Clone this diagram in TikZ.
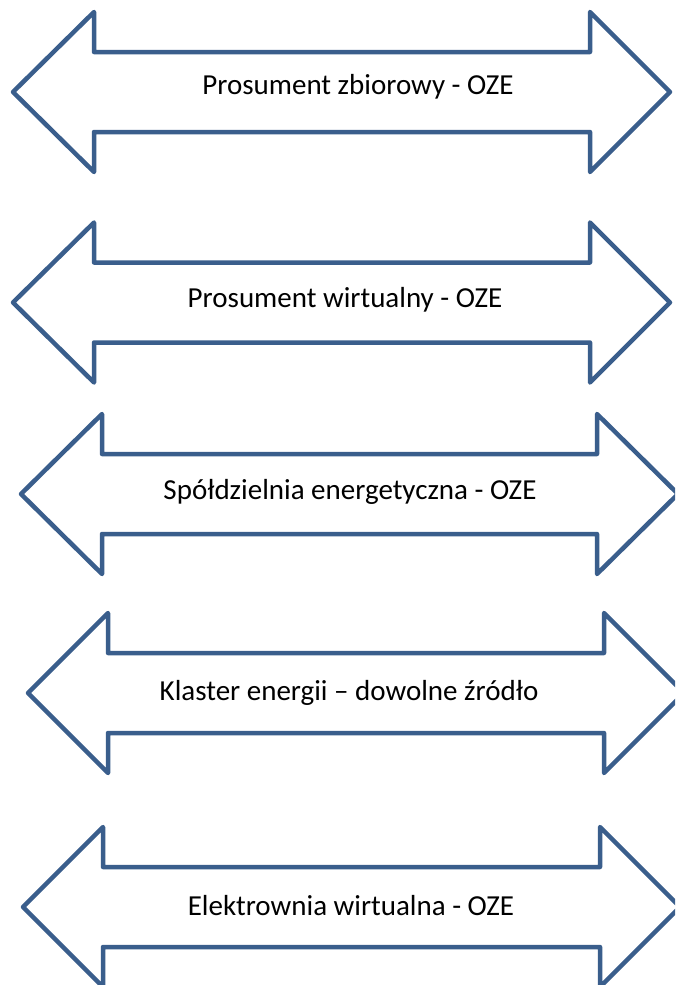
\documentclass[tikz,border=0pt]{standalone}
\usepackage{fontspec}
\setmainfont{Carlito}
\definecolor{arrowblue}{HTML}{3A5E8C}
\tikzset{
  dblarrow/.style={draw=arrowblue, line width=4.5pt, line join=round, fill=white},
  arrowlabel/.style={anchor=base, inner sep=0pt, font=\fontsize{29}{34}\selectfont, text=black}
}
% #1 left tip x, #2 left base x, #3 right base x, #4 right tip x, #5 centre y
\newcommand{\dblarrowshape}[6]{%
  \draw[dblarrow] (#1,#5) -- (#2,#5-80) -- (#2,#5-40) -- (#3,#5-40) -- (#3,#5-80)
    -- (#4,#5) -- (#3,#5+80) -- (#3,#5+40) -- (#2,#5+40) -- (#2,#5+80) -- cycle;
  \coordinate (#6) at ({(#1+#4)/2},#5);
}
\begin{document}
\begin{tikzpicture}[x=1pt,y=-1pt]
\useasboundingbox (0,0) rectangle (675,985);
\clip (0,0) rectangle (675,985);
\fill[white] (0,0) rectangle (675,985);
\dblarrowshape{13}{94}{590}{670}{92}{a1}
\dblarrowshape{13}{94}{590}{670}{302.5}{a2}
\dblarrowshape{21}{102}{597}{678}{494}{a3}
\dblarrowshape{28}{108}{604}{684}{693}{a4}
\dblarrowshape{23}{103}{600}{680}{907}{a5}
\node[arrowlabel] (t1) at (358,94) {Prosument zbiorowy - OZE};
\node[arrowlabel] (t2) at (345,307) {Prosument wirtualny - OZE};
\node[arrowlabel] (t3) at (350,499) {Spółdzielnia energetyczna - OZE};
\node[arrowlabel] (t4) at (349,700) {Klaster energii – dowolne źródło};
\node[arrowlabel] (t5) at (351,915) {Elektrownia wirtualna - OZE};
\end{tikzpicture}
\end{document}
